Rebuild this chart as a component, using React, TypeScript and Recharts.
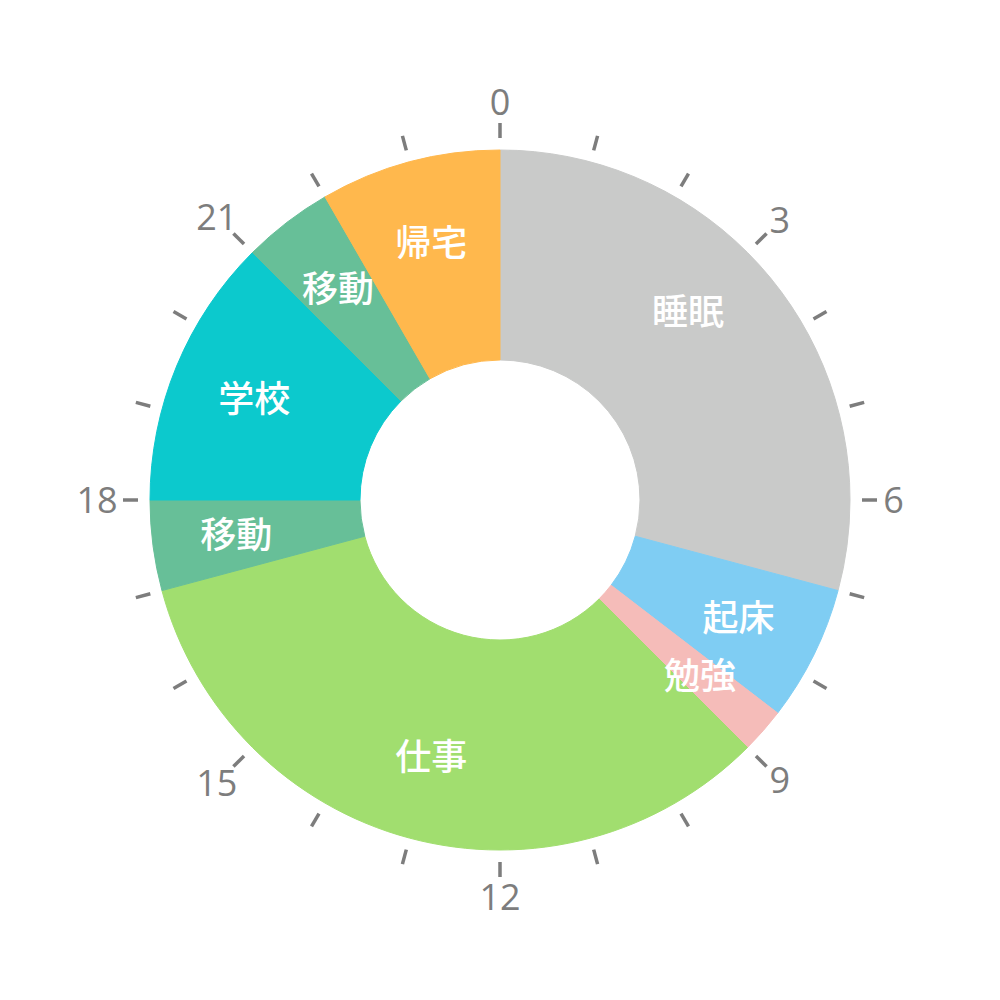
import React from 'react';
import { PieChart, Pie, Cell } from 'recharts';

// Daily schedule (hours, clockwise from 0:00)
const activities = ['睡眠', '睡眠', '起床', '勉強', '仕事', '移動', '学校', '移動', '帰宅'];
const durations = [6, 1, 1.5, 0.5, 8, 1, 3, 1, 2];
const showLabel = [true, false, true, true, true, true, true, true, true];
const colors = ['#C9CAC9', '#C9CAC9', '#7FCDF3', '#F5BCB9', '#A1DE6F', '#67BF98', '#0CC9CD', '#67BF98', '#FFB84D'];

// Clock face
const clockHours = [0, 1, 2, 3, 4, 5, 6, 7, 8, 9, 10, 11, 12, 13, 14, 15, 16, 17, 18, 19, 20, 21, 22, 23];
const labeledHours = [0, 3, 6, 9, 12, 15, 18, 21];

const RAD = Math.PI / 180;
const scheduleData = activities.map((name, i) => ({ name, value: durations[i], show: showLabel[i] }));
const hourData = clockHours.map((h) => ({ hour: h, value: 1 }));

const LABEL_FS = 36;
const HOUR_FS = 36;

const renderActivityLabel = (props: any) => {
  const { cx, cy, midAngle, index } = props;
  const d = scheduleData[index];
  if (!d || !d.show) return null;
  const r = 266;
  const x = cx + r * Math.cos(-midAngle * RAD);
  const y = cy + r * Math.sin(-midAngle * RAD);
  return (
    <text
      x={x}
      y={y + LABEL_FS * 0.37}
      textAnchor="middle"
      fill="#ffffff"
      fontSize={LABEL_FS}
      fontWeight={500}
      fontFamily="'Noto Sans CJK JP', 'Noto Sans', sans-serif"
    >
      {d.name}
    </text>
  );
};

const renderHourTick = (props: any) => {
  const { cx, cy, midAngle, index } = props;
  const ir = 362;
  const or = 377;
  const c = Math.cos(-midAngle * RAD);
  const s = Math.sin(-midAngle * RAD);
  const hour = hourData[index].hour;
  const isLabeled = labeledHours.includes(hour);
  const txt = String(hour);
  const w = txt.length * 19;
  const h = 27;
  const rc = 384 + Math.sqrt(((w / 2) * c) ** 2 + ((h / 2) * s) ** 2);
  return (
    <g key={`tick-${index}`}>
      <line
        x1={cx + ir * c}
        y1={cy + ir * s}
        x2={cx + or * c}
        y2={cy + or * s}
        stroke="#7d7d7d"
        strokeWidth={3.5}
      />
      {isLabeled && (
        <text
          x={cx + rc * c}
          y={cy + rc * s + HOUR_FS * 0.357}
          textAnchor="middle"
          fill="#7d7d7d"
          fontSize={HOUR_FS}
          fontFamily="'Open Sans', 'Noto Sans', sans-serif"
        >
          {txt}
        </text>
      )}
    </g>
  );
};

export default function App() {
  return (
    <div style={{ position: 'absolute', left: 0, top: 0, width: 1000, height: 1000, background: '#ffffff' }}>
      <PieChart width={1000} height={1000} margin={{ top: 0, right: 0, bottom: 0, left: 0 }}>
        <Pie
          data={scheduleData}
          dataKey="value"
          nameKey="name"
          cx={500}
          cy={500}
          innerRadius={140}
          outerRadius={350}
          startAngle={90}
          endAngle={-270}
          label={renderActivityLabel}
          labelLine={false}
          isAnimationActive={false}
        >
          {scheduleData.map((d, i) => (
            <Cell key={`c-${i}`} fill={colors[i]} stroke={colors[i]} strokeWidth={1} />
          ))}
        </Pie>
        <Pie
          data={hourData}
          dataKey="value"
          nameKey="hour"
          cx={500}
          cy={500}
          innerRadius={362}
          outerRadius={377}
          startAngle={97.5}
          endAngle={-262.5}
          fill="none"
          stroke="none"
          label={renderHourTick}
          labelLine={false}
          isAnimationActive={false}
        >
          {hourData.map((d, i) => (
            <Cell key={`h-${i}`} fill="none" stroke="none" />
          ))}
        </Pie>
      </PieChart>
    </div>
  );
}
